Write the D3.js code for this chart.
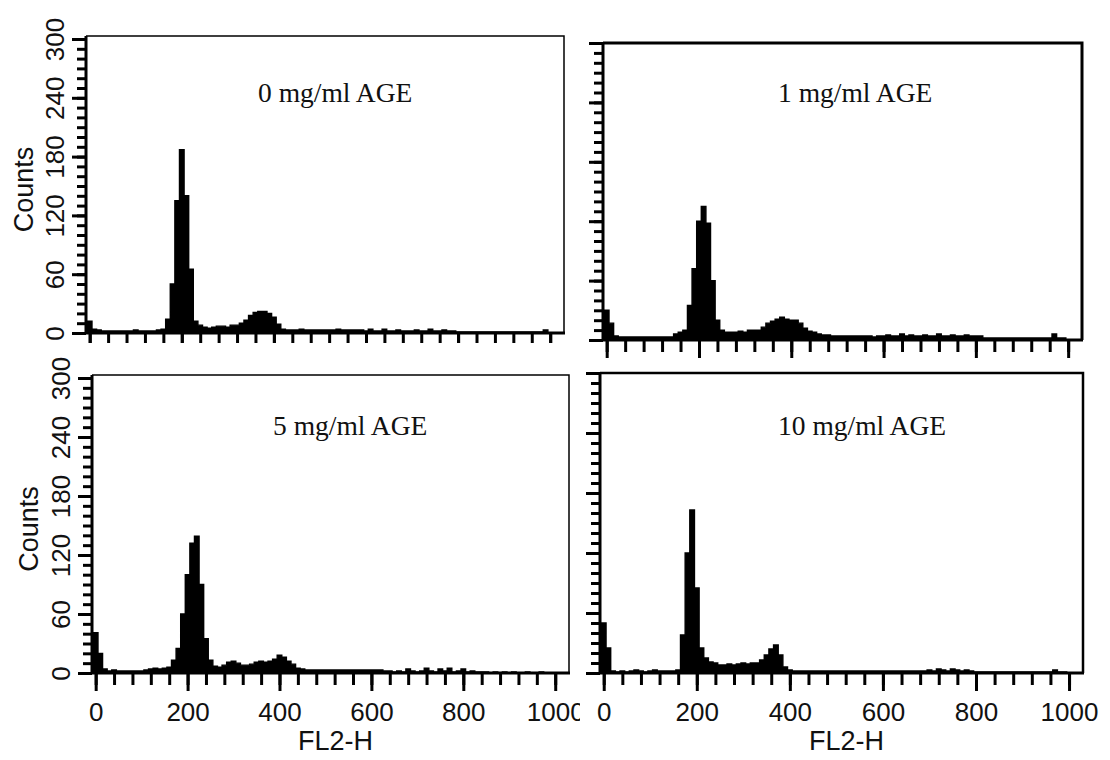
<!DOCTYPE html>
<html>
<head>
<meta charset="utf-8">
<script src="https://cdn.jsdelivr.net/npm/d3@7"></script>
<style>
  body { margin: 0; background: #fff; }
  text { fill: #111; }
</style>
</head>
<body>
<svg id="chart" width="1110" height="760"></svg>
<script>
// FL2-H channel of each bin (bin centres, 10 channels wide)
const binWidth = 10;
const channels = d3.range(0, 1000, binWidth);

const labels = ['0 mg/ml AGE', '1 mg/ml AGE', '5 mg/ml AGE', '10 mg/ml AGE'];

// counts per bin
const counts0 = [
  12, 4, 3, 2, 2, 2, 2, 2, 2, 2,
  3, 2, 2, 2, 2, 3, 4, 14, 50, 135,
  187, 140, 65, 12, 8, 6, 5, 6, 7, 7,
  6, 8, 8, 10, 13, 18, 21, 22, 22, 20,
  16, 9, 4, 3, 3, 3, 4, 3, 3, 3,
  3, 3, 3, 3, 4, 3, 3, 3, 3, 3,
  2, 4, 2, 2, 4, 2, 2, 3, 2, 2,
  2, 3, 2, 2, 4, 2, 2, 3, 2, 2,
  1, 1, 1, 1, 1, 1, 1, 1, 1, 1,
  1, 1, 1, 1, 1, 1, 1, 1, 1, 3
];
const counts1 = [
  30, 17, 4, 3, 3, 3, 3, 3, 3, 3,
  3, 3, 3, 3, 3, 6, 8, 10, 35, 72,
  120, 135, 118, 60, 20, 10, 8, 8, 8, 9,
  8, 10, 10, 10, 13, 17, 19, 21, 23, 21,
  20, 20, 17, 12, 9, 8, 6, 5, 5, 4,
  4, 4, 4, 4, 4, 4, 4, 4, 3, 4,
  4, 5, 4, 4, 6, 4, 5, 4, 4, 5,
  4, 4, 6, 4, 4, 5, 4, 4, 5, 4,
  4, 4, 2, 2, 2, 2, 2, 2, 2, 2,
  2, 2, 2, 2, 2, 2, 2, 6, 2, 2
];
const counts5 = [
  41, 20, 4, 2, 3, 2, 2, 2, 2, 2,
  2, 3, 4, 5, 4, 5, 6, 13, 25, 60,
  100, 132, 139, 90, 35, 13, 7, 6, 8, 11,
  12, 10, 8, 8, 9, 11, 12, 11, 12, 14,
  18, 16, 12, 9, 5, 4, 3, 3, 3, 3,
  3, 3, 3, 3, 3, 3, 3, 3, 3, 3,
  3, 3, 3, 2, 2, 1, 2, 1, 4, 2,
  1, 2, 5, 2, 1, 4, 2, 5, 1, 2,
  4, 1, 2, 1, 1, 1, 0, 1, 0, 1,
  0, 1, 0, 0, 1, 0, 0, 1, 0, 0
];
const counts10 = [
  50, 25, 2, 1, 2, 1, 2, 3, 2, 1,
  2, 3, 2, 2, 2, 2, 3, 38, 120, 163,
  85, 25, 15, 11, 10, 8, 8, 9, 8, 9,
  10, 9, 10, 10, 13, 18, 24, 28, 18, 6,
  3, 2, 2, 2, 2, 2, 2, 2, 2, 2,
  2, 2, 2, 2, 2, 2, 2, 2, 2, 2,
  2, 2, 2, 2, 2, 2, 2, 2, 2, 2,
  3, 2, 4, 3, 2, 4, 3, 2, 3, 2,
  1, 1, 1, 1, 1, 1, 1, 1, 1, 1,
  1, 1, 1, 1, 1, 1, 1, 3, 1, 1
];

const yMajor = [0, 60, 120, 180, 240, 300];
const yMinor = d3.range(0, 301, 10);
const xMajor = [0, 200, 400, 600, 800, 1000];
const xMinor = d3.range(0, 1001, 40);

// panel layout
const panels = [
  { counts: counts0, left: 86, right: 564, base: 333, y300: 39, top: 36, frame: 1.5,
    yLabels: true, xLabels: false, labelX: 258, labelY: 102, countsX: 33,
    clip: [0, 0, 580, 343] },
  { counts: counts1, left: 603, right: 1082, base: 340, y300: 43, top: 43, frame: 3,
    yLabels: false, xLabels: false, labelX: 778, labelY: 102,
    clip: [580, 0, 530, 366] },
  { counts: counts5, left: 92, right: 569, base: 673, y300: 378, top: 375, frame: 1.5,
    yLabels: true, xLabels: true, labelX: 273, labelY: 435, countsX: 38,
    clip: [0, 343, 580, 417] },
  { counts: counts10, left: 600, right: 1083, base: 673, y300: 373, top: 373, frame: 2.5,
    yLabels: false, xLabels: true, labelX: 778, labelY: 435,
    clip: [580, 366, 530, 394] }
];

const svg = d3.select('#chart');
const defs = svg.append('defs');
const sans = '"Liberation Sans", Arial, sans-serif';

panels.forEach((p, k) => {
  defs.append('clipPath').attr('id', 'clip' + k)
    .append('rect')
    .attr('x', p.clip[0]).attr('y', p.clip[1])
    .attr('width', p.clip[2]).attr('height', p.clip[3]);

  const g = svg.append('g').attr('clip-path', `url(#clip${k})`);

  const x = d3.scaleLinear().domain([-8, 1030]).range([p.left, p.right]);
  const y = d3.scaleLinear().domain([0, 300]).range([p.base, p.y300]);

  // histogram as one stepped area
  const pts = channels.map((c, i) => [c - binWidth / 2, p.counts[i]]);
  pts.push([channels[channels.length - 1] + binWidth / 2, p.counts[p.counts.length - 1]]);
  const area = d3.area()
    .x(d => x(d[0]))
    .y0(y(0))
    .y1(d => y(d[1]))
    .curve(d3.curveStepAfter);
  g.append('path').attr('d', area(pts))
    .attr('fill', '#000').attr('stroke', '#000').attr('stroke-width', 1.4);

  // frame (top and right)
  g.append('path')
    .attr('d', `M${p.left},${p.top}H${p.right}V${p.base}`)
    .attr('fill', 'none').attr('stroke', '#000').attr('stroke-width', p.frame);

  // y axis
  g.append('g').attr('transform', `translate(${p.left},0)`)
    .call(d3.axisLeft(y).tickValues(yMinor).tickSize(9).tickFormat(''))
    .call(a => a.select('.domain').remove())
    .call(a => a.selectAll('line').attr('stroke-width', 3));

  const yMaj = g.append('g').attr('transform', `translate(${p.left},0)`)
    .call(d3.axisLeft(y).tickValues(yMajor).tickSize(14).tickFormat(d3.format('d')))
    .call(a => a.select('.domain').remove())
    .call(a => a.selectAll('line').attr('stroke-width', 3));
  if (p.yLabels) {
    yMaj.selectAll('text')
      .attr('x', null).attr('dy', null)
      .attr('text-anchor', 'middle')
      .attr('transform', 'translate(-22,0) rotate(-90)')
      .attr('font-family', sans)
      .attr('font-size', 26);
  } else {
    yMaj.selectAll('text').remove();
  }

  // x axis
  g.append('g').attr('transform', `translate(0,${p.base})`)
    .call(d3.axisBottom(x).tickValues(xMinor).tickSize(12).tickFormat(''))
    .call(a => a.select('.domain').remove())
    .call(a => a.selectAll('line').attr('stroke-width', 3));

  const xMaj = g.append('g').attr('transform', `translate(0,${p.base})`)
    .call(d3.axisBottom(x).tickValues(xMajor).tickSize(18).tickPadding(12).tickFormat(d3.format('d')))
    .call(a => a.select('.domain').remove())
    .call(a => a.selectAll('line').attr('stroke-width', 3));
  if (p.xLabels) {
    xMaj.selectAll('text')
      .attr('font-family', sans)
      .attr('font-size', 26);
  } else {
    xMaj.selectAll('text').remove();
  }

  // axis lines
  g.append('path')
    .attr('d', `M${p.left},${p.top}V${p.base}H${p.right + 1}`)
    .attr('fill', 'none').attr('stroke', '#000').attr('stroke-width', 3);

  // treatment label
  g.append('text')
    .attr('x', p.labelX).attr('y', p.labelY)
    .attr('font-family', '"Liberation Serif", "Times New Roman", serif')
    .attr('font-size', 27.5)
    .text(labels[k]);

  if (p.yLabels) {
    g.append('text')
      .attr('transform', `translate(${p.countsX},${(p.base + p.top) / 2 + 5}) rotate(-90)`)
      .attr('text-anchor', 'middle')
      .attr('font-family', sans)
      .attr('font-size', 27)
      .text('Counts');
  }
  if (p.xLabels) {
    g.append('text')
      .attr('x', (p.left + p.right) / 2 + 5).attr('y', 750)
      .attr('text-anchor', 'middle')
      .attr('font-family', sans)
      .attr('font-size', 27)
      .text('FL2-H');
  }
});
</script>
</body>
</html>
